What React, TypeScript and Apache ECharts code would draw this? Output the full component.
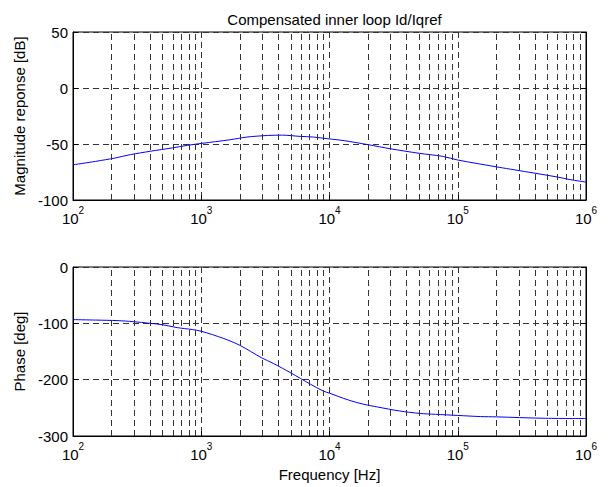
import React, { useEffect, useRef } from "react";
import * as echarts from "echarts";

const titleText = "Compensated inner loop Id/Iqref";
const magAxisName = "Magnitude reponse [dB]";
const phaseAxisName = "Phase [deg]";
const freqAxisName = "Frequency [Hz]";

const freqMag = [100, 150, 213, 280, 400, 594, 780, 1000, 1680, 2270, 3280, 4300, 5900, 7500, 9700, 13000, 20000, 30000, 50000, 76000, 100000, 210000, 275000, 600000, 750000, 1000000];
const magDb = [-68.6, -65.5, -62.5, -59.5, -56.5, -53.5, -51.2, -49.5, -46.2, -43.8, -42.4, -42.1, -43.2, -43.8, -45.3, -47, -50.6, -54.3, -58.3, -61, -64.3, -70.8, -73, -79.5, -81.8, -84];

const freqPhase = [100, 150, 225, 294, 400, 500, 650, 850, 1000, 1500, 2000, 2944, 3670, 5000, 7100, 8900, 10000, 14000, 18500, 23700, 35000, 51000, 67000, 100000, 150000, 200000, 460000, 1000000];
const phaseDeg = [-93.4, -94.2, -95.2, -97, -100, -102.5, -107.6, -111, -114, -127, -139, -161, -171.5, -188, -208, -220, -224, -236, -243.7, -248.5, -255.5, -260, -261.5, -263.5, -265.5, -266, -268.5, -269];

const minorGridFreqs = [200, 300, 400, 500, 600, 700, 800, 900, 2000, 3000, 4000, 5000, 6000, 7000, 8000, 9000, 20000, 30000, 40000, 50000, 60000, 70000, 80000, 90000, 200000, 300000, 400000, 500000, 600000, 700000, 800000, 900000];

const FONT = "Liberation Sans, Arial, Helvetica, sans-serif";
const FS = 15;
const DASH = [6, 4];

export default function App() {
  const ref = useRef<HTMLDivElement>(null);
  useEffect(() => {
    if (!ref.current) return;
    const chart = echarts.init(ref.current, undefined, { renderer: "svg" });
    const gridLine = { show: true, lineStyle: { color: "#333", width: 1, type: DASH } };
    const xAxisBase = (gi: number, showName: boolean) => ({
      type: "log",
      logBase: 10,
      gridIndex: gi,
      min: 100,
      max: 1000000,
      axisLine: { show: true, onZero: false, lineStyle: { color: "#000", width: 1 } },
      axisTick: { show: true, inside: true, length: 5, lineStyle: { color: "#000" } },
      splitLine: gridLine,
      minorTick: { show: false },
      axisLabel: {
        color: "#000",
        margin: 5,
        formatter: (v: number) => `{b|10}{s|${Math.round(Math.log10(v))}}`,
        rich: {
          b: { fontSize: FS, fontFamily: FONT, color: "#000", lineHeight: 21, verticalAlign: "bottom" },
          s: { fontSize: 10, fontFamily: FONT, color: "#000", lineHeight: 21, verticalAlign: "top" },
        },
      },
      name: showName ? freqAxisName : "",
      nameLocation: "middle",
      nameGap: 31,
      nameTextStyle: { fontSize: FS, fontFamily: FONT, color: "#000" },
    });
    const yAxisLeft = (gi: number, min: number, max: number, interval: number, name: string) => ({
      type: "value",
      gridIndex: gi,
      min,
      max,
      interval,
      position: "left",
      axisLine: { show: true, onZero: false, lineStyle: { color: "#000", width: 1 } },
      axisTick: { show: true, inside: true, length: 5, lineStyle: { color: "#000" } },
      splitLine: gridLine,
      axisLabel: { color: "#000", fontSize: FS, fontFamily: FONT, margin: 5 },
      name,
      nameLocation: "middle",
      nameGap: 42,
      nameTextStyle: { fontSize: FS, fontFamily: FONT, color: "#000" },
    });
    const yAxisRight = (gi: number, min: number, max: number, interval: number) => ({
      type: "value",
      gridIndex: gi,
      min,
      max,
      interval,
      position: "right",
      axisLine: { show: true, onZero: false, lineStyle: { color: "#000", width: 1 } },
      axisTick: { show: true, inside: true, length: 5, lineStyle: { color: "#000" } },
      splitLine: { show: false },
      axisLabel: { show: false },
    });
    const minorMarks = {
      silent: true,
      symbol: ["none", "none"],
      label: { show: false },
      lineStyle: { color: "#333", width: 1, type: DASH },
      emphasis: { disabled: true },
      data: minorGridFreqs.map((f) => ({ xAxis: f })),
    };
    chart.setOption({
      animation: false,
      backgroundColor: "#fff",
      title: {
        text: titleText,
        left: 329.5,
        textAlign: "center",
        top: 7,
        textStyle: { fontSize: FS, fontWeight: "normal", fontFamily: FONT, color: "#000" },
      },
      grid: [
        { left: 73, top: 32, width: 513, height: 168, show: true, borderColor: "#000", borderWidth: 1, backgroundColor: "#fff" },
        { left: 73, top: 267, width: 513, height: 169, show: true, borderColor: "#000", borderWidth: 1, backgroundColor: "#fff" },
      ],
      xAxis: [xAxisBase(0, false), xAxisBase(1, true)],
      yAxis: [
        yAxisLeft(0, -100, 50, 50, magAxisName),
        yAxisRight(0, -100, 50, 50),
        yAxisLeft(1, -300, 0, 100, phaseAxisName),
        yAxisRight(1, -300, 0, 100),
      ],
      series: [
        {
          type: "line",
          xAxisIndex: 0,
          yAxisIndex: 0,
          data: freqMag.map((f, i) => [f, magDb[i]]),
          showSymbol: false,
          smooth: 0.3,
          lineStyle: { color: "#0000ff", width: 1 },
          markLine: minorMarks,
        },
        {
          type: "line",
          xAxisIndex: 1,
          yAxisIndex: 2,
          data: freqPhase.map((f, i) => [f, phaseDeg[i]]),
          showSymbol: false,
          smooth: 0.3,
          lineStyle: { color: "#0000ff", width: 1 },
          markLine: minorMarks,
        },
      ],
    });
    return () => chart.dispose();
  }, []);
  return <div ref={ref} style={{ position: "fixed", left: 0, top: 0, width: 615, height: 487, background: "#fff" }} />;
}
